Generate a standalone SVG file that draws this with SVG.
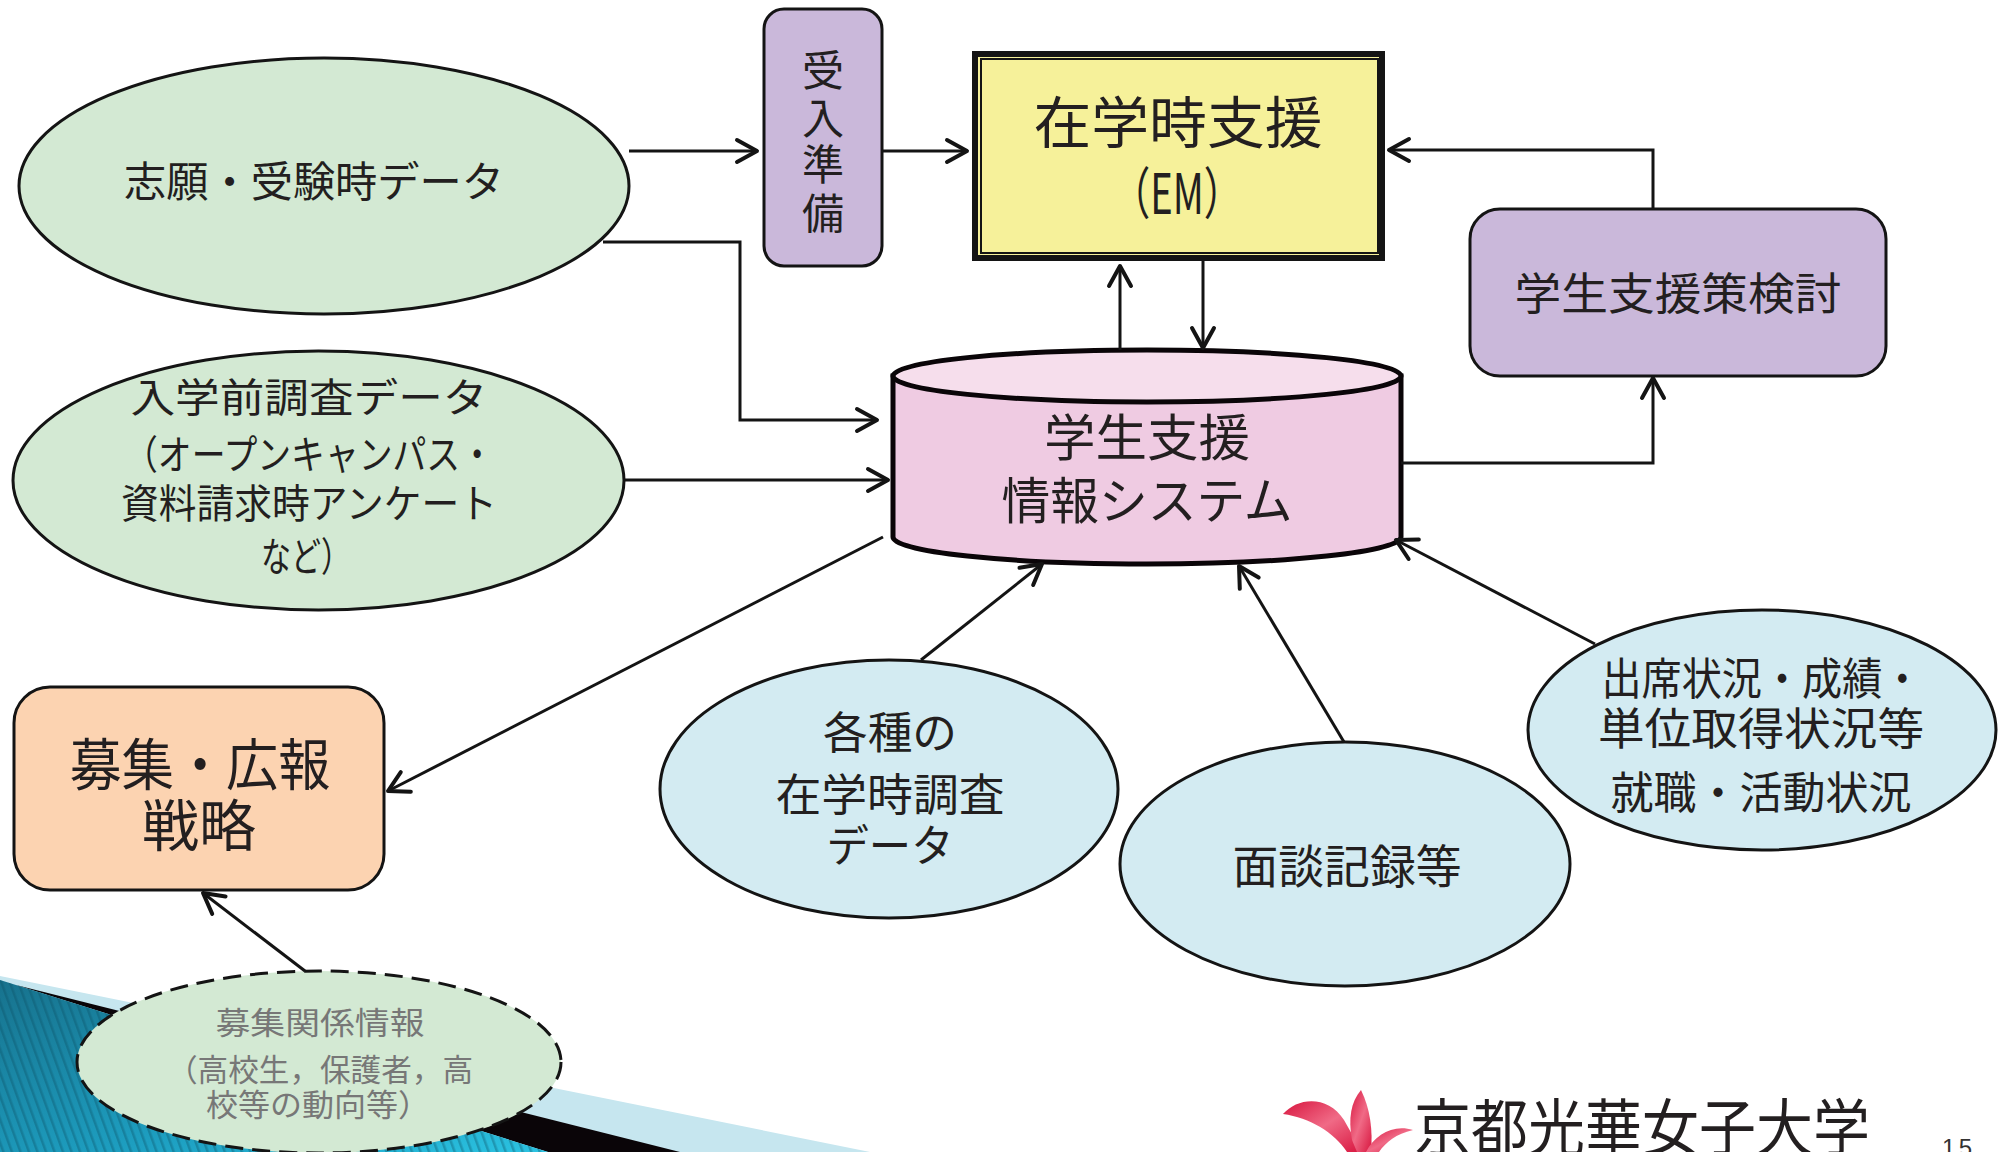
<svg xmlns="http://www.w3.org/2000/svg" width="2006" height="1152" viewBox="0 0 2006 1152">
  <defs>
    <style>
      .t { font-family: "Noto Sans CJK JP", "Noto Sans", sans-serif; fill: #231f20; text-anchor: middle; dominant-baseline: central; }
      .grey { fill: #777777; }
      .edge { fill: none; stroke: #141414; stroke-width: 3; }
      .green { fill: #d3e9d3; stroke: #141414; stroke-width: 3; }
      .blue { fill: #d3ebf2; stroke: #141414; stroke-width: 3; }
      .lav { fill: #cab8da; stroke: #141414; stroke-width: 3; }
    </style>
    <marker id="open" markerUnits="userSpaceOnUse" markerWidth="26" markerHeight="28" viewBox="0 0 26 28" refX="23" refY="14" orient="auto">
      <path d="M3,3 L23,14 L3,25" fill="none" stroke="#141414" stroke-width="4" stroke-linecap="round" stroke-linejoin="round"/>
    </marker>
    <linearGradient id="teal" x1="0" y1="0" x2="1" y2="1">
      <stop offset="0" stop-color="#17728d"/>
      <stop offset="0.6" stop-color="#1d9ec0"/>
      <stop offset="1" stop-color="#2bc3e2"/>
    </linearGradient>
    <pattern id="stripes" width="8" height="8" patternUnits="userSpaceOnUse" patternTransform="rotate(-20)">
      <rect x="0" y="0" width="2.5" height="8" fill="#0b4f63" opacity="0.35"/>
    </pattern>
    <linearGradient id="petal" x1="0" y1="0" x2="1" y2="1">
      <stop offset="0" stop-color="#d8163f"/>
      <stop offset="0.5" stop-color="#f06a86"/>
      <stop offset="1" stop-color="#d8163f"/>
    </linearGradient>
  </defs>

  <rect width="2006" height="1152" fill="#ffffff"/>

  <!-- corner decoration bands -->
  <g id="decoration">
    <polygon points="0,976 870,1152 0,1152" fill="#c6e6ef"/>
    <polygon points="15,984.7 680,1152 548,1152" fill="#0a0508"/>
    <polygon points="0,980 548,1152 0,1152" fill="url(#teal)"/>
    <polygon points="0,980 548,1152 0,1152" fill="url(#stripes)"/>
  </g>

  <!-- left inputs -->
  <g id="applicant-data">
    <ellipse cx="324" cy="186" rx="305" ry="128" class="green"/>
    <text class="t" x="314" y="178" font-size="42" textLength="380" lengthAdjust="spacingAndGlyphs">志願・受験時データ</text>
  </g>

  <g id="pre-enrollment-survey">
    <ellipse cx="318.5" cy="480.5" rx="305.5" ry="129.5" class="green"/>
    <text class="t" x="309" y="395" font-size="40" textLength="357" lengthAdjust="spacingAndGlyphs">入学前調査データ</text>
    <text class="t" x="309" y="452" font-size="40" textLength="370" lengthAdjust="spacingAndGlyphs">（オープンキャンパス・</text>
    <text class="t" x="309" y="501" font-size="40" textLength="376" lengthAdjust="spacingAndGlyphs">資料請求時アンケート</text>
    <text class="t" x="306" y="554" font-size="40" textLength="90" lengthAdjust="spacingAndGlyphs">など）</text>
  </g>

  <g id="admission-prep">
    <rect x="764" y="9" width="118" height="257" rx="20" class="lav"/>
    <text class="t" x="823" y="67" font-size="42">受</text>
    <text class="t" x="823" y="115" font-size="42">入</text>
    <text class="t" x="823" y="161" font-size="42">準</text>
    <text class="t" x="823" y="210" font-size="42">備</text>
  </g>

  <g id="em-support">
    <rect x="975" y="54" width="407" height="204" fill="#f6f19a" stroke="#141414" stroke-width="6"/>
    <rect x="981" y="59" width="397" height="194" fill="none" stroke="#141414" stroke-width="2"/>
    <text class="t" x="1178" y="118" font-size="56" textLength="289" lengthAdjust="spacingAndGlyphs">在学時支援</text>
    <text class="t" x="1177" y="189" font-size="56" textLength="130" lengthAdjust="spacingAndGlyphs">（EM）</text>
  </g>

  <g id="support-planning">
    <rect x="1470" y="209" width="416" height="167" rx="30" class="lav"/>
    <text class="t" x="1678" y="291" font-size="44" textLength="327" lengthAdjust="spacingAndGlyphs">学生支援策検討</text>
  </g>

  <g id="support-database">
    <path d="M893,376 V537 A254,27 0 0 0 1401,537 V376 Z" fill="#efcbe2" stroke="#0a0508" stroke-width="5"/>
    <ellipse cx="1147" cy="376" rx="254" ry="26" fill="#f6deec" stroke="#0a0508" stroke-width="5"/>
    <text class="t" x="1147" y="434" font-size="50" textLength="206" lengthAdjust="spacingAndGlyphs">学生支援</text>
    <text class="t" x="1147" y="497" font-size="50" textLength="291" lengthAdjust="spacingAndGlyphs">情報システム</text>
  </g>

  <g id="recruitment-strategy">
    <rect x="14" y="687" width="370" height="203" rx="36" fill="#fcd3b1" stroke="#141414" stroke-width="3"/>
    <text class="t" x="200" y="760" font-size="56" textLength="261" lengthAdjust="spacingAndGlyphs">募集・広報</text>
    <text class="t" x="199" y="821" font-size="56" textLength="114" lengthAdjust="spacingAndGlyphs">戦略</text>
  </g>

  <g id="recruitment-info">
    <ellipse cx="319" cy="1062" rx="242" ry="91" fill="#d3e9d3" stroke="#141414" stroke-width="3" stroke-dasharray="18 9"/>
    <text class="t grey" x="320" y="1020" font-size="31" textLength="209" lengthAdjust="spacingAndGlyphs">募集関係情報</text>
    <text class="t grey" x="320" y="1067" font-size="31" textLength="306" lengthAdjust="spacingAndGlyphs">（高校生，保護者，高</text>
    <text class="t grey" x="318" y="1102" font-size="31" textLength="224" lengthAdjust="spacingAndGlyphs">校等の動向等）</text>
  </g>

  <!-- in-school data sources -->
  <g id="survey-data">
    <ellipse cx="889" cy="789" rx="229" ry="129" class="blue"/>
    <text class="t" x="890" y="730" font-size="44" textLength="134" lengthAdjust="spacingAndGlyphs">各種の</text>
    <text class="t" x="890" y="792" font-size="44" textLength="229" lengthAdjust="spacingAndGlyphs">在学時調査</text>
    <text class="t" x="890" y="843" font-size="44" textLength="127" lengthAdjust="spacingAndGlyphs">データ</text>
  </g>

  <g id="interview-records">
    <ellipse cx="1345" cy="864" rx="225" ry="122" class="blue"/>
    <text class="t" x="1347" y="863" font-size="46" textLength="229" lengthAdjust="spacingAndGlyphs">面談記録等</text>
  </g>

  <g id="attendance-grades">
    <ellipse cx="1762" cy="730" rx="234" ry="120" class="blue"/>
    <text class="t" x="1762" y="676" font-size="44" textLength="321" lengthAdjust="spacingAndGlyphs">出席状況・成績・</text>
    <text class="t" x="1761" y="726" font-size="44" textLength="326" lengthAdjust="spacingAndGlyphs">単位取得状況等</text>
    <text class="t" x="1761" y="790" font-size="44" textLength="301" lengthAdjust="spacingAndGlyphs">就職・活動状況</text>
  </g>

  <g id="connectors">
    <path class="edge" d="M629,151 H757" marker-end="url(#open)"/>
    <path class="edge" d="M882,151 H967" marker-end="url(#open)"/>
    <path class="edge" d="M603,242 H740 V420 H877" marker-end="url(#open)"/>
    <path class="edge" d="M624,480 H888" marker-end="url(#open)"/>
    <path class="edge" d="M1120,350 V266" marker-end="url(#open)"/>
    <path class="edge" d="M1203,261 V348" marker-end="url(#open)"/>
    <path class="edge" d="M1653,209 V150 H1389" marker-end="url(#open)"/>
    <path class="edge" d="M1401,463 H1653 V378" marker-end="url(#open)"/>
    <path class="edge" d="M883,537 L388,791" marker-end="url(#open)"/>
    <path class="edge" d="M305,971 L203,893" marker-end="url(#open)"/>
    <path class="edge" d="M921,660 L1042,564" marker-end="url(#open)"/>
    <path class="edge" d="M1344,742 L1239,566" marker-end="url(#open)"/>
    <path class="edge" d="M1595,644 L1396,540" marker-end="url(#open)"/>
  </g>

  <!-- university mark and page number -->
  <g id="logo">
    <path d="M1283,1114 C1298,1097 1328,1095 1344,1120 L1362,1152 L1347,1152 C1334,1132 1310,1118 1283,1114 Z" fill="url(#petal)"/>
    <path d="M1352,1140 C1348,1118 1351,1102 1361,1090 C1370,1108 1373,1130 1371,1152 L1357,1152 Z" fill="url(#petal)"/>
    <path d="M1366,1152 C1375,1134 1394,1124 1413,1130 C1396,1134 1386,1142 1379,1152 Z" fill="url(#petal)"/>
    <text class="t" x="1642" y="1124" font-size="62" fill="#111111" textLength="456" lengthAdjust="spacingAndGlyphs">京都光華女子大学</text>
  </g>
  <text x="1942" y="1156" font-family="Liberation Sans, sans-serif" font-size="24" fill="#333333" textLength="30" lengthAdjust="spacing">15</text>
</svg>
